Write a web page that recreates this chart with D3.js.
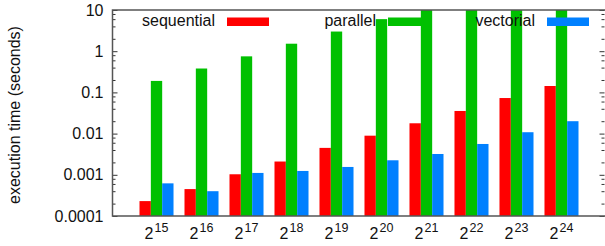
<!DOCTYPE html>
<html><head><meta charset="utf-8">
<script src="https://cdn.jsdelivr.net/npm/d3@7"></script>
<style>
html,body{margin:0;padding:0;background:#fff;}
text{font-family:"Liberation Sans",Arial,Helvetica,sans-serif;}
</style></head>
<body><svg id="c" width="605" height="246"></svg>
<script>
const exponents = [15,16,17,18,19,20,21,22,23,24];
const seriesNames = ["sequential","parallel","vectorial"];
const sequential = [0.00023,0.00045,0.00103,0.0021,0.0045,0.0089,0.0178,0.0354,0.073,0.143];
const parallel   = [0.19,0.38,0.75,1.52,3.0,6.0,12,24,48,96];
const vectorial  = [0.00062,0.0004,0.00111,0.00124,0.00155,0.00225,0.0032,0.0056,0.0108,0.020];
const yTicks = [0.0001,0.001,0.01,0.1,1,10];
const yTickLabels = ["0.0001","0.001","0.01","0.1","1","10"];
const colors = ["#ff0000","#00c000","#0080ff"];

const svg = d3.select("#c");
const L=112.5, R=605.5, T=10, B=216;
const x = d3.scaleBand().domain(exponents).range([L,R]).paddingInner(0.244).paddingOuter(0.6);
const xs = d3.scaleBand().domain(seriesNames).range([0,x.bandwidth()]);
const y = d3.scaleLog().domain([1e-4,10]).range([B,T]);

const data = [sequential,parallel,vectorial];

svg.append("defs").append("clipPath").attr("id","clip")
  .append("rect").attr("x",L).attr("y",T).attr("width",R-L).attr("height",B-T);

const gBars = svg.append("g").attr("clip-path","url(#clip)");
seriesNames.forEach((s,si)=>{
  gBars.selectAll(null).data(exponents).enter().append("rect")
    .attr("x",d=>x(d)+xs(s))
    .attr("width",xs.bandwidth())
    .attr("y",(d,i)=>y(data[si][i]))
    .attr("height",(d,i)=>B-y(data[si][i]))
    .attr("fill",colors[si]);
});

// minor ticks
const minors=[];
yTicks.slice(0,-1).forEach(t=>{[2,4,6,8].forEach(m=>minors.push(t*m));});

const axL = svg.append("g").attr("transform",`translate(${L},0)`)
  .call(d3.axisLeft(y).tickValues(yTicks).tickFormat((d,i)=>yTickLabels[i]).tickSize(-5).tickPadding(9));
axL.select(".domain").remove();
axL.selectAll("line").attr("stroke","#333");
axL.selectAll("text").attr("font-size",16).attr("fill","#111");
const axLm = svg.append("g").attr("transform",`translate(${L},0)`)
  .call(d3.axisLeft(y).tickValues(minors).tickFormat("").tickSize(-3));
axLm.select(".domain").remove();
axLm.selectAll("line").attr("stroke","#333");

const axR = svg.append("g").attr("transform",`translate(${R-1},0)`)
  .call(d3.axisRight(y).tickValues(yTicks).tickFormat("").tickSize(-5));
axR.select(".domain").remove();
axR.selectAll("line").attr("stroke","#333");
const axRm = svg.append("g").attr("transform",`translate(${R-1},0)`)
  .call(d3.axisRight(y).tickValues(minors).tickFormat("").tickSize(-3));
axRm.select(".domain").remove();
axRm.selectAll("line").attr("stroke","#333");

// border
svg.append("path").attr("d",`M${R},${T}H${L}V${B}H${R}`)
  .attr("fill","none").attr("stroke","#555").attr("stroke-width",1.5);

// x axis labels
const axB = svg.append("g").attr("transform",`translate(0,${B})`)
  .call(d3.axisBottom(x).tickSize(0).tickFormat(""));
axB.select(".domain").remove();
axB.selectAll(".tick").each(function(d){
  const t = d3.select(this).append("text").attr("y",23).attr("text-anchor","middle")
    .attr("fill","#111").attr("font-size",16);
  t.append("tspan").text("2");
  t.append("tspan").attr("font-size",12.5).attr("dy",-7).attr("dx",1).text(d);
});

// y title
svg.append("text").attr("transform","translate(20,115) rotate(-90)")
  .attr("text-anchor","middle").attr("font-size",16).attr("fill","#111")
  .text("execution time (seconds)");

// legend
const legTextEnd = [215, 376, 535];
seriesNames.forEach((s,i)=>{
  svg.append("text").attr("x",legTextEnd[i]).attr("y",26).attr("text-anchor","end")
    .attr("font-size",16).attr("fill","#111").text(s);
  svg.append("rect").attr("x",legTextEnd[i]+12).attr("y",17.5).attr("width",42).attr("height",8.5)
    .attr("fill",colors[i]);
});
</script></body></html>
